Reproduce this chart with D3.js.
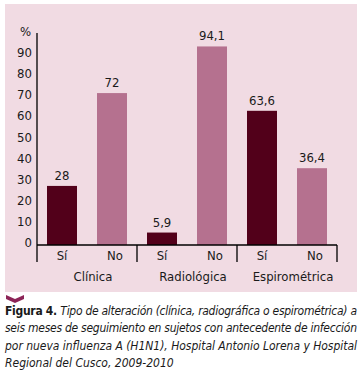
<!DOCTYPE html>
<html>
<head>
<meta charset="utf-8">
<script src="https://cdn.jsdelivr.net/npm/d3@7"></script>
<style>
  body { margin: 0; background: #fff; }
</style>
</head>
<body>
<div id="chart"></div>
<script>
// data
const groups = ["Clínica", "Radiológica", "Espirométrica"];
const answers = ["Sí", "No"];
const values = [28, 72, 5.9, 94.1, 63.6, 36.4];
const valueLabels = ["28", "72", "5,9", "94,1", "63,6", "36,4"];
const yTicks = [0, 10, 20, 30, 40, 50, 60, 70, 80, 90];
const captionLines = [
    "Tipo de alteración (clínica, radiográfica o espirométrica) a",
    "seis meses de seguimiento en sujetos con antecedente de infección",
    "por nueva influenza A (H1N1), Hospital Antonio Lorena y Hospital",
    "Regional del Cusco, 2009-2010"
];

const W = 363, H = 373;
const font = "'DejaVu Sans Condensed', 'Liberation Sans Narrow', sans-serif";

const svg = d3.select("#chart").append("svg")
    .attr("width", W)
    .attr("height", H);

// pink panel
svg.append("rect")
    .attr("x", 5).attr("y", 4)
    .attr("width", 352).attr("height", 288)
    .attr("fill", "#f1dbe3");

const xLeft = 37, xRight = 337, yBase = 245, yTop = 34;

const bars = values.map((v, i) => ({
    key: i,
    group: groups[Math.floor(i / 2)],
    answer: answers[i % 2],
    value: v,
    label: valueLabels[i]
}));

const x = d3.scaleBand()
    .domain(bars.map(d => d.key))
    .range([xLeft, xRight])
    .paddingInner(0.4)
    .paddingOuter(0.2);

const xg = d3.scaleBand()
    .domain(groups)
    .range([xLeft, xRight]);

const y = d3.scaleLinear()
    .domain([0, 100])
    .range([yBase, yTop]);

// bars
svg.selectAll("rect.bar")
    .data(bars)
    .join("rect")
    .attr("class", "bar")
    .attr("x", d => x(d.key))
    .attr("y", d => y(d.value))
    .attr("width", x.bandwidth())
    .attr("height", d => yBase - y(d.value))
    .attr("fill", d => d.answer == "Sí" ? "#52001a" : "#b5718f");

// value labels
svg.selectAll("text.val")
    .data(bars)
    .join("text")
    .attr("class", "val")
    .attr("x", d => x(d.key) + x.bandwidth() / 2)
    .attr("y", d => y(d.value) - 6)
    .attr("text-anchor", "middle")
    .attr("font-family", font)
    .attr("font-size", 13)
    .attr("fill", "#1a1a1a")
    .text(d => d.label);

// y axis (labels only + line)
svg.append("line")
    .attr("x1", xLeft).attr("x2", xLeft)
    .attr("y1", yTop - 1).attr("y2", yBase + 17)
    .attr("stroke", "#000").attr("stroke-width", 1.3);

svg.selectAll("text.ytick")
    .data(yTicks)
    .join("text")
    .attr("class", "ytick")
    .attr("x", 32)
    .attr("y", d => y(d) + 2)
    .attr("text-anchor", "end")
    .attr("font-family", font)
    .attr("font-size", 13)
    .attr("fill", "#1a1a1a")
    .text(d => d);

svg.append("text")
    .attr("x", 20).attr("y", 36)
    .attr("font-family", font)
    .attr("font-size", 13)
    .attr("fill", "#1a1a1a")
    .text("%");

// x baseline and group separators
svg.append("line")
    .attr("x1", xLeft).attr("x2", xRight)
    .attr("y1", yBase).attr("y2", yBase)
    .attr("stroke", "#000").attr("stroke-width", 1.3);

svg.selectAll("line.sep")
    .data(groups)
    .join("line")
    .attr("class", "sep")
    .attr("x1", d => xg(d) + xg.bandwidth())
    .attr("x2", d => xg(d) + xg.bandwidth())
    .attr("y1", yBase).attr("y2", yBase + 17)
    .attr("stroke", "#000").attr("stroke-width", 1.3);

// Sí / No labels
svg.selectAll("text.ans")
    .data(bars)
    .join("text")
    .attr("class", "ans")
    .attr("x", d => x(d.key) + x.bandwidth() / 2 + (d.answer == "No" ? 3 : 0))
    .attr("y", 260)
    .attr("text-anchor", "middle")
    .attr("font-family", font)
    .attr("font-size", 13)
    .attr("fill", "#1a1a1a")
    .text(d => d.answer);

// group labels
svg.selectAll("text.grp")
    .data(groups)
    .join("text")
    .attr("class", "grp")
    .attr("x", d => xg(d) + xg.bandwidth() / 2 + 6)
    .attr("y", 281)
    .attr("text-anchor", "middle")
    .attr("font-family", font)
    .attr("font-size", 13)
    .attr("fill", "#1a1a1a")
    .text(d => d);

// chevron
svg.append("path")
    .attr("d", "M6,295 L15,299 L24,295 L24,299 L15,303 L6,299 Z")
    .attr("fill", "#8c2457");

// caption
const cap = svg.append("g")
    .attr("font-family", font)
    .attr("font-size", 12)
    .attr("fill", "#1a1a1a");

const first = cap.append("text")
    .attr("x", 5).attr("y", 315)
    .attr("textLength", 352)
    .attr("lengthAdjust", "spacing");
first.append("tspan").attr("font-weight", "bold").text("Figura 4. ");
first.append("tspan").attr("font-style", "italic").text(captionLines[0]);

cap.selectAll("text.cap")
    .data(captionLines.slice(1))
    .join("text")
    .attr("class", "cap")
    .attr("x", 5)
    .attr("y", (d, i) => 332 + i * 17.5)
    .attr("font-style", "italic")
    .attr("textLength", (d, i) => i < 2 ? 352 : null)
    .attr("lengthAdjust", "spacing")
    .text(d => d);
</script>
</body>
</html>
